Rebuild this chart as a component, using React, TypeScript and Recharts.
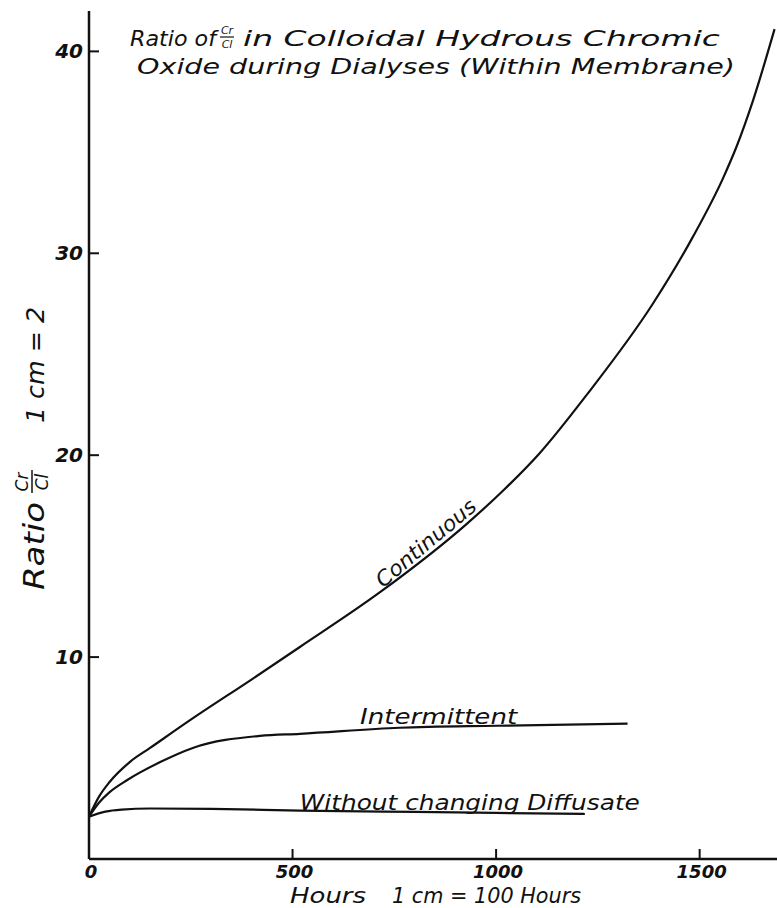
import { LineChart, Line, XAxis, YAxis, ReferenceDot } from "recharts";

// Hours since start of dialysis
const hoursContinuous = [0, 25, 50, 100, 150, 250, 400, 518, 714, 928, 1020, 1107, 1223, 1385, 1483, 1557, 1591, 1630, 1684];
const ratioContinuous = [2.1, 3.1, 3.8, 4.8, 5.5, 6.9, 8.9, 10.5, 13.2, 16.6, 18.3, 20.1, 23.0, 27.5, 30.8, 33.7, 35.3, 37.5, 41.1];

const hoursIntermittent = [0, 25, 50, 93, 175, 255, 420, 518, 763, 1000, 1323];
const ratioIntermittent = [2.1, 2.8, 3.3, 3.9, 4.8, 5.5, 6.1, 6.2, 6.5, 6.6, 6.7];

const hoursWithout = [0, 40, 80, 150, 300, 518, 800, 1000, 1218];
const ratioWithout = [2.1, 2.35, 2.45, 2.5, 2.48, 2.4, 2.33, 2.28, 2.23];

const xTicks = [0, 500, 1000, 1500];
const yTicks = [10, 20, 30, 40];

const toPoints = (hs: number[], vs: number[]) => hs.map((h, i) => ({ h, v: vs[i] }));

const FONT = "'DejaVu Sans', sans-serif";
const INK = "#111";

const YTick = ({ x, y, payload }: any) => (
  <g>
    <line x1={x} x2={x + 10} y1={y} y2={y} stroke={INK} strokeWidth={2} />
    <text x={x - 6} y={y + 7} textAnchor="end" fontFamily={FONT} fontStyle="italic" fontWeight="bold" fontSize={20} fill={INK}>
      {payload.value}
    </text>
  </g>
);

const XTick = ({ x, y, payload }: any) => (
  <g>
    {payload.value !== 0 && <line x1={x} x2={x} y1={y} y2={y - 10} stroke={INK} strokeWidth={2} />}
    <text x={x + 2} y={y + 19} textAnchor="middle" fontFamily={FONT} fontStyle="italic" fontWeight="bold" fontSize={18} fill={INK}>
      {payload.value}
    </text>
  </g>
);

const curveLabel = (text: string, len: number, angle: number, size: number) => (props: any) => {
  const { x, y } = props.viewBox;
  return (
    <text
      x={x}
      y={y}
      transform={`rotate(${angle} ${x} ${y})`}
      fontFamily={FONT}
      fontStyle="italic"
      fontSize={size}
      textLength={len}
      lengthAdjust="spacingAndGlyphs"
      fill={INK}
    >
      {text}
    </text>
  );
};

export default function App() {
  return (
    <div style={{ position: "absolute", left: 0, top: 0, width: 777, height: 908, background: "#fff" }}>
      <LineChart width={777} height={908} margin={{ top: 11, right: 0, bottom: 0, left: 0 }}>
        <XAxis
          type="number"
          dataKey="h"
          domain={[0, 1690]}
          ticks={xTicks}
          height={49}
          tickSize={0}
          tickMargin={0}
          tickLine={false}
          tick={<XTick />}
          axisLine={{ stroke: INK, strokeWidth: 2.5 }}
          allowDataOverflow
        />
        <YAxis
          type="number"
          domain={[0, 42]}
          ticks={yTicks}
          width={89}
          tickSize={0}
          tickMargin={0}
          tickLine={false}
          tick={<YTick />}
          axisLine={{ stroke: INK, strokeWidth: 2.5 }}
          allowDataOverflow
        />
        <Line data={toPoints(hoursContinuous, ratioContinuous)} dataKey="v" type="monotone" stroke={INK} strokeWidth={2.2} dot={false} isAnimationActive={false} />
        <Line data={toPoints(hoursIntermittent, ratioIntermittent)} dataKey="v" type="monotone" stroke={INK} strokeWidth={2.2} dot={false} isAnimationActive={false} />
        <Line data={toPoints(hoursWithout, ratioWithout)} dataKey="v" type="monotone" stroke={INK} strokeWidth={2.2} dot={false} isAnimationActive={false} />
        <ReferenceDot x={722} y={13.4} r={0} stroke="none" fill="none" label={curveLabel("Continuous", 124, -40, 21)} />
        <ReferenceDot x={666} y={6.7} r={0} stroke="none" fill="none" label={curveLabel("Intermittent", 157, 0, 22)} />
        <ReferenceDot x={518} y={2.45} r={0} stroke="none" fill="none" label={curveLabel("Without changing Diffusate", 340, 0, 22)} />
      </LineChart>
      <svg width={777} height={908} style={{ position: "absolute", left: 0, top: 0, pointerEvents: "none" }}>
        <g fontFamily={FONT} fontStyle="italic" fill={INK}>
          {/* title */}
          <text x={130} y={46} fontSize={22} textLength={86} lengthAdjust="spacingAndGlyphs">Ratio of</text>
          <text x={227} y={34} fontSize={11} textAnchor="middle">Cr</text>
          <line x1={220} x2={234} y1={37} y2={37} stroke={INK} strokeWidth={1.2} />
          <text x={227} y={48} fontSize={11} textAnchor="middle">Cl</text>
          <text x={243} y={46} fontSize={22} textLength={477} lengthAdjust="spacingAndGlyphs">in Colloidal Hydrous Chromic</text>
          <text x={137} y={74} fontSize={22} textLength={598} lengthAdjust="spacingAndGlyphs">Oxide during Dialyses (Within Membrane)</text>
          {/* y axis title */}
          <g transform="translate(44 590) rotate(-90)">
            <text x={0} y={0} fontSize={28} textLength={88} lengthAdjust="spacingAndGlyphs">Ratio</text>
            <text x={108} y={-16} fontSize={17} textAnchor="middle">Cr</text>
            <line x1={97} x2={120} y1={-12} y2={-12} stroke={INK} strokeWidth={1.5} />
            <text x={108} y={4} fontSize={17} textAnchor="middle">Cl</text>
            <text x={167} y={0} fontSize={24} textLength={116} lengthAdjust="spacingAndGlyphs">1 cm = 2</text>
          </g>
          {/* x axis title */}
          <text x={290} y={903} fontSize={22} textLength={76} lengthAdjust="spacingAndGlyphs">Hours</text>
          <text x={392} y={903} fontSize={22} textLength={189} lengthAdjust="spacingAndGlyphs">1 cm = 100 Hours</text>
        </g>
      </svg>
    </div>
  );
}
